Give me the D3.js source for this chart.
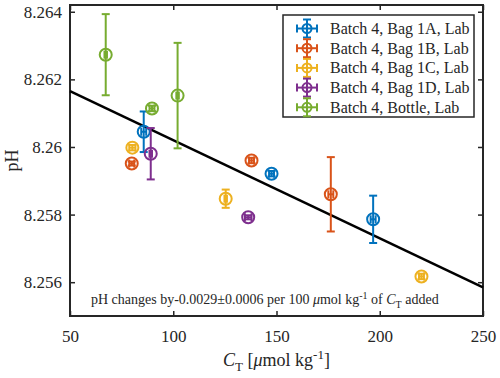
<!DOCTYPE html>
<html>
<head>
<meta charset="utf-8">
<script src="https://cdn.jsdelivr.net/npm/d3@7"></script>
<style>
  body { margin: 0; background: #fff; }
  svg text { font-family: "Liberation Serif", "Times New Roman", serif; fill: #262626; }
</style>
</head>
<body>
<div id="chart"></div>
<script>
// series names and colours
var seriesNames = ["Batch 4, Bag 1A, Lab", "Batch 4, Bag 1B, Lab", "Batch 4, Bag 1C, Lab", "Batch 4, Bag 1D, Lab", "Batch 4, Bottle, Lab"];
var seriesColors = ["#0072BD", "#D95319", "#EDB120", "#7E2F8E", "#77AC30"];

// values
var ctBag1A = [85.7, 147.6, 196.8];
var phBag1A = [8.26045, 8.25921, 8.25786];
var phErrBag1A = [0.0006, 0.00008, 0.0007];
var ctErrBag1A = [1.2, 1.2, 1.2];

var ctBag1B = [79.9, 137.9, 176.3];
var phBag1B = [8.25951, 8.2596, 8.2586];
var phErrBag1B = [0.00006, 0.00008, 0.0011];
var ctErrBag1B = [1.2, 1.2, 1.2];

var ctBag1C = [80.2, 125.4, 220.2];
var phBag1C = [8.25998, 8.25847, 8.25617];
var phErrBag1C = [0.00008, 0.00027, 0.00008];
var ctErrBag1C = [1.5, 0.6, 1.2];

var ctBag1D = [89.1, 136.3];
var phBag1D = [8.2598, 8.25792];
var phErrBag1D = [0.00076, 0.00006];
var ctErrBag1D = [0.6, 1.6];

var ctBottle = [67.3, 89.7, 102.1];
var phBottle = [8.26273, 8.26114, 8.26152];
var phErrBottle = [0.0012, 0.00008, 0.00156];
var ctErrBottle = [0.6, 1.2, 0.6];

// linear fit drawn across the whole x range
var fitCt = [50, 250];
var fitPh = [8.26165, 8.25585];

var xTicks = [50, 100, 150, 200, 250];
var yTicks = [8.256, 8.258, 8.26, 8.262, 8.264];

var allSeries = [
    {ct: ctBag1A, ph: phBag1A, phErr: phErrBag1A, ctErr: ctErrBag1A},
    {ct: ctBag1B, ph: phBag1B, phErr: phErrBag1B, ctErr: ctErrBag1B},
    {ct: ctBag1C, ph: phBag1C, phErr: phErrBag1C, ctErr: ctErrBag1C},
    {ct: ctBag1D, ph: phBag1D, phErr: phErrBag1D, ctErr: ctErrBag1D},
    {ct: ctBottle, ph: phBottle, phErr: phErrBottle, ctErr: ctErrBottle}
];

// set the dimensions and margins of the graph
var margin = {top: 5, right: 17, bottom: 62, left: 70},
    width = 500 - margin.left - margin.right,
    height = 378 - margin.top - margin.bottom;

var x = d3.scaleLinear().domain([50, 250]).range([0, width]);
var y = d3.scaleLinear().domain([8.255, 8.2642]).range([height, 0]);

var svg = d3.select("#chart").append("svg")
    .attr("width", 500)
    .attr("height", 378)
    .append("g")
    .attr("transform", "translate(" + margin.left + "," + margin.top + ")");

var axisColor = "#262626";
var tickLen = 5;

// axes with inward ticks, box on
var xAxis = svg.append("g")
    .attr("transform", "translate(0," + height + ")")
    .call(d3.axisBottom(x).tickValues(xTicks).tickSizeInner(-tickLen).tickSizeOuter(0).tickPadding(14));
var xTop = svg.append("g")
    .call(d3.axisTop(x).tickValues(xTicks).tickSizeInner(-tickLen).tickSizeOuter(0).tickFormat(""));
var yAxis = svg.append("g")
    .call(d3.axisLeft(y).tickValues(yTicks).tickSizeInner(-tickLen).tickSizeOuter(0).tickPadding(8)
        .tickFormat(function (d) { return d3.format(".3f")(d).replace(/0+$/, ""); }));
var yRight = svg.append("g")
    .attr("transform", "translate(" + width + ",0)")
    .call(d3.axisRight(y).tickValues(yTicks).tickSizeInner(-tickLen).tickSizeOuter(0).tickFormat(""));

[xAxis, xTop, yAxis, yRight].forEach(function (g) {
    g.select(".domain").remove();
    g.selectAll(".tick line").attr("stroke", axisColor).attr("stroke-width", 1.5);
    g.selectAll(".tick text").style("font-size", "17px").attr("fill", axisColor);
});

svg.append("rect")
    .attr("x", 0).attr("y", 0)
    .attr("width", width).attr("height", height)
    .attr("fill", "none")
    .attr("stroke", axisColor)
    .attr("stroke-width", 2);

// fit line
svg.append("path")
    .datum(d3.zip(fitCt, fitPh))
    .attr("fill", "none")
    .attr("stroke", "#000")
    .attr("stroke-width", 2.5)
    .attr("d", d3.line().x(function (d) { return x(d[0]); }).y(function (d) { return y(d[1]); }));

// error bars and markers
var cap = 4, r = 6;
allSeries.forEach(function (s, i) {
    var color = seriesColors[i];
    var pts = s.ct.map(function (c, j) {
        return {ct: c, ph: s.ph[j], phErr: s.phErr[j], ctErr: s.ctErr[j]};
    });
    var g = svg.append("g")
        .attr("stroke", color)
        .attr("stroke-width", 2)
        .attr("fill", "none");
    var eb = g.selectAll("g.pt").data(pts).enter().append("g").attr("class", "pt");
    eb.append("line")
        .attr("x1", function (d) { return x(d.ct); })
        .attr("x2", function (d) { return x(d.ct); })
        .attr("y1", function (d) { return y(d.ph - d.phErr); })
        .attr("y2", function (d) { return y(d.ph + d.phErr); });
    [-1, 1].forEach(function (sgn) {
        eb.append("line")
            .attr("x1", function (d) { return x(d.ct) - cap; })
            .attr("x2", function (d) { return x(d.ct) + cap; })
            .attr("y1", function (d) { return y(d.ph + sgn * d.phErr); })
            .attr("y2", function (d) { return y(d.ph + sgn * d.phErr); });
        eb.append("line")
            .attr("x1", function (d) { return x(d.ct + sgn * d.ctErr); })
            .attr("x2", function (d) { return x(d.ct + sgn * d.ctErr); })
            .attr("y1", function (d) { return y(d.ph) - cap; })
            .attr("y2", function (d) { return y(d.ph) + cap; });
    });
    eb.append("line")
        .attr("x1", function (d) { return x(d.ct - d.ctErr); })
        .attr("x2", function (d) { return x(d.ct + d.ctErr); })
        .attr("y1", function (d) { return y(d.ph); })
        .attr("y2", function (d) { return y(d.ph); });
    eb.append("circle")
        .attr("cx", function (d) { return x(d.ct); })
        .attr("cy", function (d) { return y(d.ph); })
        .attr("r", r);
});

// annotation
svg.append("text")
    .attr("x", 21)
    .attr("y", 299)
    .style("font-size", "14px")
    .html("pH changes by-0.0029\u00B10.0006 per 100 <tspan font-style='italic'>\u03BC</tspan>mol  kg<tspan dy='-5' font-size='10px'>-1</tspan><tspan dy='5'> of </tspan><tspan font-style='italic'>C</tspan><tspan dy='4' font-size='10px'>T</tspan><tspan dy='-4'> added</tspan>");

// axis labels
svg.append("text")
    .attr("x", width / 2)
    .attr("y", height + 50)
    .attr("text-anchor", "middle")
    .style("font-size", "18px")
    .html("<tspan font-style='italic'>C</tspan><tspan dy='5' font-size='13px'>T</tspan><tspan dy='-5'> [</tspan><tspan font-style='italic'>\u03BC</tspan>mol  kg<tspan dy='-7' font-size='13px'>-1</tspan><tspan dy='7'>]</tspan>");

svg.append("text")
    .attr("transform", "translate(" + (-52) + "," + (height / 2) + ") rotate(-90)")
    .attr("text-anchor", "middle")
    .style("font-size", "18px")
    .text("pH");

// legend
var lg = svg.append("g").attr("transform", "translate(" + (283 - margin.left) + "," + (15 - margin.top) + ")");
lg.append("rect")
    .attr("width", 191).attr("height", 102)
    .attr("fill", "#fff")
    .attr("stroke", axisColor)
    .attr("stroke-width", 1.5);
seriesNames.forEach(function (name, i) {
    var cy = 13.5 + i * 19.7, cx = 24, color = seriesColors[i];
    var item = lg.append("g").attr("stroke", color).attr("stroke-width", 2).attr("fill", "none");
    item.append("line").attr("x1", cx - 10).attr("x2", cx + 10).attr("y1", cy).attr("y2", cy);
    item.append("line").attr("x1", cx).attr("x2", cx).attr("y1", cy - 9).attr("y2", cy + 9);
    item.append("line").attr("x1", cx - 10).attr("x2", cx - 10).attr("y1", cy - 4).attr("y2", cy + 4);
    item.append("line").attr("x1", cx + 10).attr("x2", cx + 10).attr("y1", cy - 4).attr("y2", cy + 4);
    item.append("line").attr("x1", cx - 4).attr("x2", cx + 4).attr("y1", cy - 9).attr("y2", cy - 9);
    item.append("line").attr("x1", cx - 4).attr("x2", cx + 4).attr("y1", cy + 9).attr("y2", cy + 9);
    item.append("circle").attr("cx", cx).attr("cy", cy).attr("r", 4.5);
    lg.append("text")
        .attr("x", 47)
        .attr("y", cy + 5.5)
        .style("font-size", "16px")
        .text(name);
});
</script>
</body>
</html>
